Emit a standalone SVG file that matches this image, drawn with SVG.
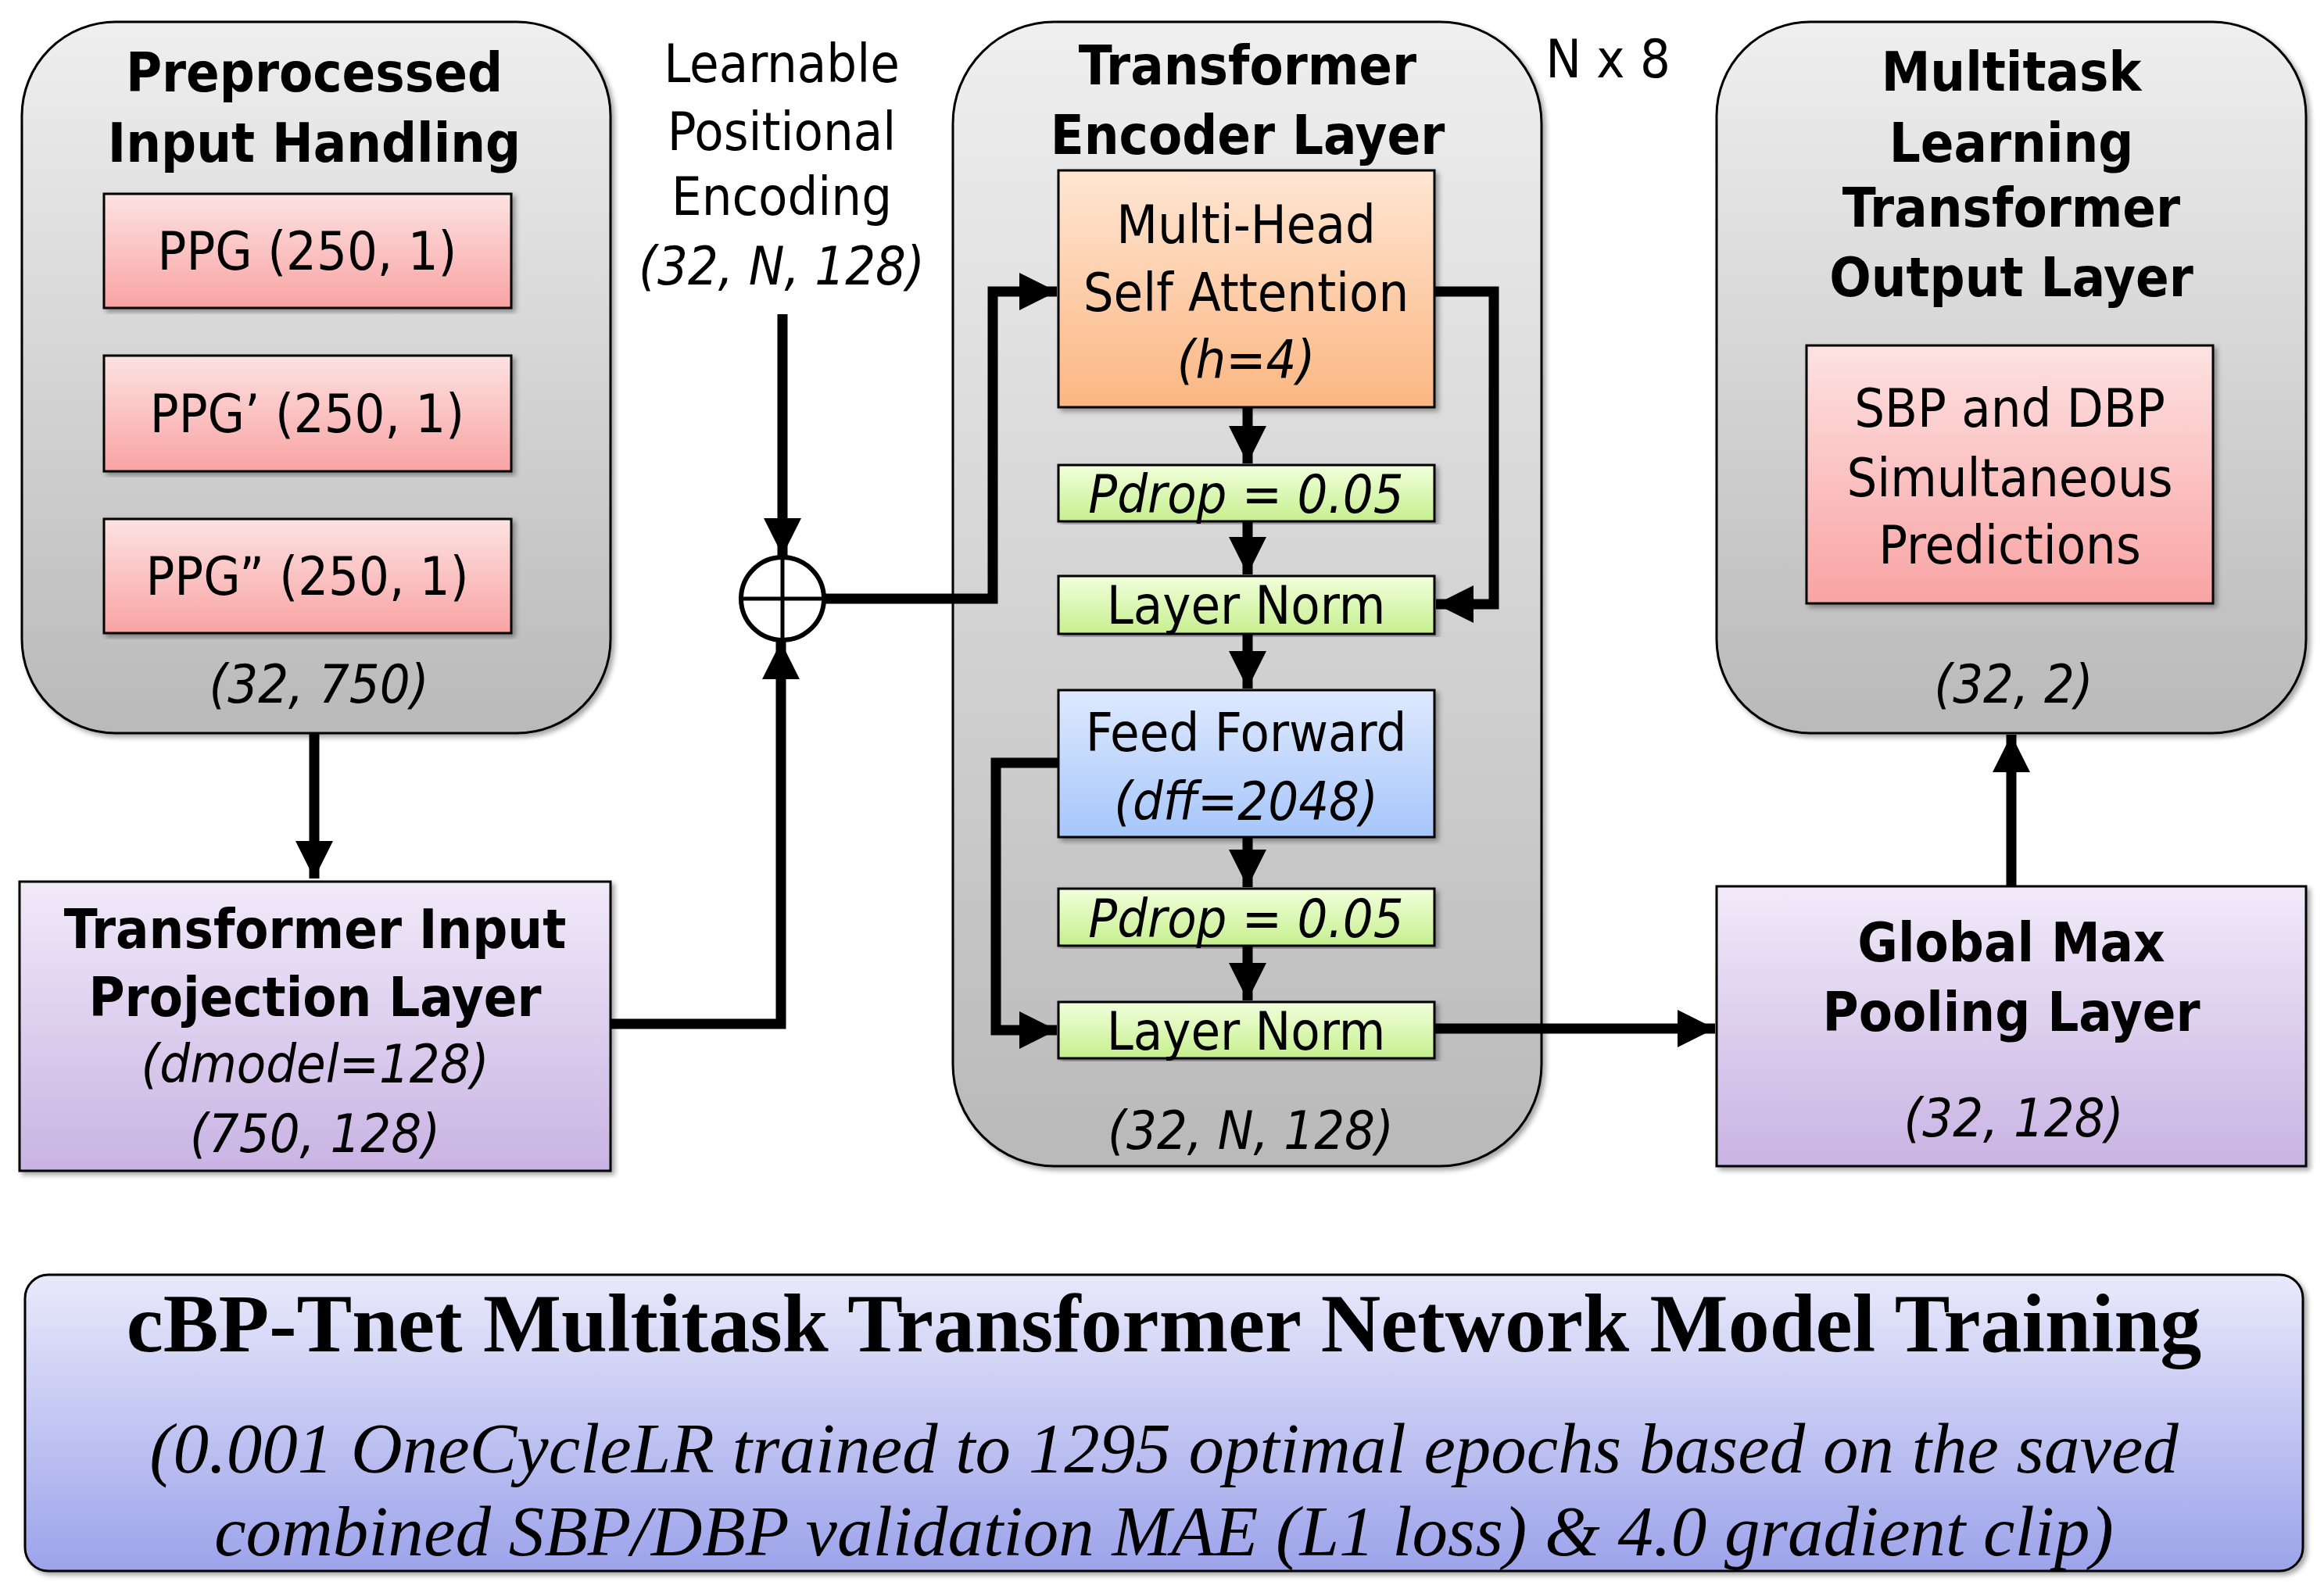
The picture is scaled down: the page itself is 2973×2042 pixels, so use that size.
<svg xmlns="http://www.w3.org/2000/svg" width="2973" height="2042" viewBox="0 0 2973 2042">
<defs>
<linearGradient id="gGray" x1="0" y1="0" x2="0" y2="1"><stop offset="0" stop-color="#efefef"/><stop offset="1" stop-color="#b9b9b9"/></linearGradient>
<linearGradient id="gPink" x1="0" y1="0" x2="0" y2="1"><stop offset="0" stop-color="#fde2e2"/><stop offset="1" stop-color="#f9a3a3"/></linearGradient>
<linearGradient id="gPurple" x1="0" y1="0" x2="0" y2="1"><stop offset="0" stop-color="#f1eaf9"/><stop offset="1" stop-color="#c9b3e3"/></linearGradient>
<linearGradient id="gOrange" x1="0" y1="0" x2="0" y2="1"><stop offset="0" stop-color="#ffe6d3"/><stop offset="1" stop-color="#fbb682"/></linearGradient>
<linearGradient id="gGreen" x1="0" y1="0" x2="0" y2="1"><stop offset="0" stop-color="#f2ffdc"/><stop offset="1" stop-color="#c6ef8e"/></linearGradient>
<linearGradient id="gBlue" x1="0" y1="0" x2="0" y2="1"><stop offset="0" stop-color="#dfe9ff"/><stop offset="1" stop-color="#a6c6fa"/></linearGradient>
<linearGradient id="gBottom" x1="0" y1="0" x2="0" y2="1"><stop offset="0" stop-color="#e9e9fb"/><stop offset="1" stop-color="#9ca3ea"/></linearGradient>
<filter id="sh" x="-5%" y="-5%" width="110%" height="110%"><feDropShadow dx="4" dy="4" stdDeviation="3" flood-color="#000" flood-opacity="0.35"/></filter>
<marker id="ah" markerUnits="userSpaceOnUse" markerWidth="52" markerHeight="52" refX="48" refY="24" orient="auto"><path d="M0,0 L48,24 L0,48 Z" fill="#000"/></marker>
</defs>
<style>
.box{stroke:#000;stroke-width:3;filter:url(#sh)}
.t{font-family:"DejaVu Sans Condensed","DejaVu Sans",sans-serif;text-anchor:middle;fill:#000}
.b{font-weight:bold;font-size:70px}
.n{font-size:68px}
.i{font-style:italic;font-size:68px}
.c{fill:none;stroke:#000;stroke-width:13;stroke-linejoin:miter}
.s{font-family:"Liberation Serif",serif;text-anchor:middle;fill:#000}
</style>
<rect width="2973" height="2042" fill="#fff"/>

<g id="input-handling">
<rect class="box" x="28" y="28" width="753" height="910" rx="120" fill="url(#gGray)"/>
<text class="t b" x="402" y="117">Preprocessed</text>
<text class="t b" x="402" y="207">Input Handling</text>
<rect class="box" x="133" y="248" width="521" height="146" fill="url(#gPink)"/>
<text class="t n" x="393" y="345">PPG (250, 1)</text>
<rect class="box" x="133" y="455" width="521" height="148" fill="url(#gPink)"/>
<text class="t n" x="393" y="553">PPG’ (250, 1)</text>
<rect class="box" x="133" y="664" width="521" height="146" fill="url(#gPink)"/>
<text class="t n" x="393" y="761">PPG” (250, 1)</text>
<text class="t i" x="408" y="899">(32, 750)</text>
</g>

<g id="projection">
<rect class="box" x="25" y="1128" width="756" height="370" fill="url(#gPurple)"/>
<text class="t b" x="403" y="1213">Transformer Input</text>
<text class="t b" x="403" y="1300">Projection Layer</text>
<text class="t i" x="403" y="1385">(dmodel=128)</text>
<text class="t i" x="403" y="1474">(750, 128)</text>
</g>

<g id="positional-encoding">
<text class="t n" x="1000" y="105">Learnable</text>
<text class="t n" x="1000" y="192">Positional</text>
<text class="t n" x="1000" y="275">Encoding</text>
<text class="t i" x="1000" y="364">(32, N, 128)</text>
</g>

<g id="add">
<circle cx="1001" cy="766" r="53" fill="#fff" stroke="#000" stroke-width="6"/>
<line x1="948" y1="766" x2="1054" y2="766" stroke="#000" stroke-width="5"/>
<line x1="1001" y1="713" x2="1001" y2="819" stroke="#000" stroke-width="5"/>
</g>

<g id="encoder">
<rect class="box" x="1219" y="28" width="753" height="1464" rx="130" fill="url(#gGray)"/>
<text class="t b" x="1596" y="108">Transformer</text>
<text class="t b" x="1596" y="197">Encoder Layer</text>
<text class="t n" x="2057" y="99">N x 8</text>
<rect class="box" x="1354" y="218" width="481" height="303" fill="url(#gOrange)"/>
<text class="t n" x="1594" y="311">Multi-Head</text>
<text class="t n" x="1594" y="398">Self Attention</text>
<text class="t i" x="1594" y="484">(h=4)</text>
<rect class="box" x="1354" y="595" width="481" height="72" fill="url(#gGreen)"/>
<text class="t i" x="1594" y="656">Pdrop = 0.05</text>
<rect class="box" x="1354" y="737" width="481" height="74" fill="url(#gGreen)"/>
<text class="t n" x="1594" y="798">Layer Norm</text>
<rect class="box" x="1354" y="883" width="481" height="188" fill="url(#gBlue)"/>
<text class="t n" x="1594" y="961">Feed Forward</text>
<text class="t i" x="1594" y="1049">(dff=2048)</text>
<rect class="box" x="1354" y="1137" width="481" height="73" fill="url(#gGreen)"/>
<text class="t i" x="1594" y="1199">Pdrop = 0.05</text>
<rect class="box" x="1354" y="1282" width="481" height="72" fill="url(#gGreen)"/>
<text class="t n" x="1594" y="1343">Layer Norm</text>
<text class="t i" x="1600" y="1470">(32, N, 128)</text>
</g>

<g id="output-layer">
<rect class="box" x="2196" y="28" width="754" height="910" rx="120" fill="url(#gGray)"/>
<text class="t b" x="2573" y="116">Multitask</text>
<text class="t b" x="2573" y="207">Learning</text>
<text class="t b" x="2573" y="290">Transformer</text>
<text class="t b" x="2573" y="379">Output Layer</text>
<rect class="box" x="2311" y="442" width="520" height="330" fill="url(#gPink)"/>
<text class="t n" x="2571" y="546">SBP and DBP</text>
<text class="t n" x="2571" y="635">Simultaneous</text>
<text class="t n" x="2571" y="721">Predictions</text>
<text class="t i" x="2576" y="899">(32, 2)</text>
</g>

<g id="pooling">
<rect class="box" x="2196" y="1134" width="754" height="358" fill="url(#gPurple)"/>
<text class="t b" x="2573" y="1230">Global Max</text>
<text class="t b" x="2573" y="1319">Pooling Layer</text>
<text class="t i" x="2576" y="1454">(32, 128)</text>
</g>

<g id="training">
<rect class="box" x="32" y="1631" width="2914" height="379" rx="30" fill="url(#gBottom)"/>
<text class="s" x="1489" y="1729" font-size="106" font-weight="bold">cBP-Tnet Multitask Transformer Network Model Training</text>
<text class="s" x="1489" y="1884" font-size="91" font-style="italic">(0.001 OneCycleLR trained to 1295 optimal epochs based on the saved</text>
<text class="s" x="1489" y="1990" font-size="91" font-style="italic">combined SBP/DBP validation MAE (L1 loss) &amp; 4.0 gradient clip)</text>
</g>

<g id="connectors">
<path class="c" d="M402,938 V1124" marker-end="url(#ah)"/>
<path class="c" d="M781,1310 H999 V821" marker-end="url(#ah)"/>
<path class="c" d="M1001,402 V711" marker-end="url(#ah)"/>
<path class="c" d="M1056,766 H1270 V373 H1352" marker-end="url(#ah)"/>
<path class="c" d="M1596,521 V593" marker-end="url(#ah)"/>
<path class="c" d="M1596,667 V735" marker-end="url(#ah)"/>
<path class="c" d="M1835,373 H1911 V773 H1837" marker-end="url(#ah)"/>
<path class="c" d="M1596,811 V881" marker-end="url(#ah)"/>
<path class="c" d="M1596,1071 V1135" marker-end="url(#ah)"/>
<path class="c" d="M1596,1210 V1280" marker-end="url(#ah)"/>
<path class="c" d="M1354,976 H1274 V1318 H1352" marker-end="url(#ah)"/>
<path class="c" d="M1835,1316 H2194" marker-end="url(#ah)"/>
<path class="c" d="M2573,1134 V940" marker-end="url(#ah)"/>
</g>
</svg>
